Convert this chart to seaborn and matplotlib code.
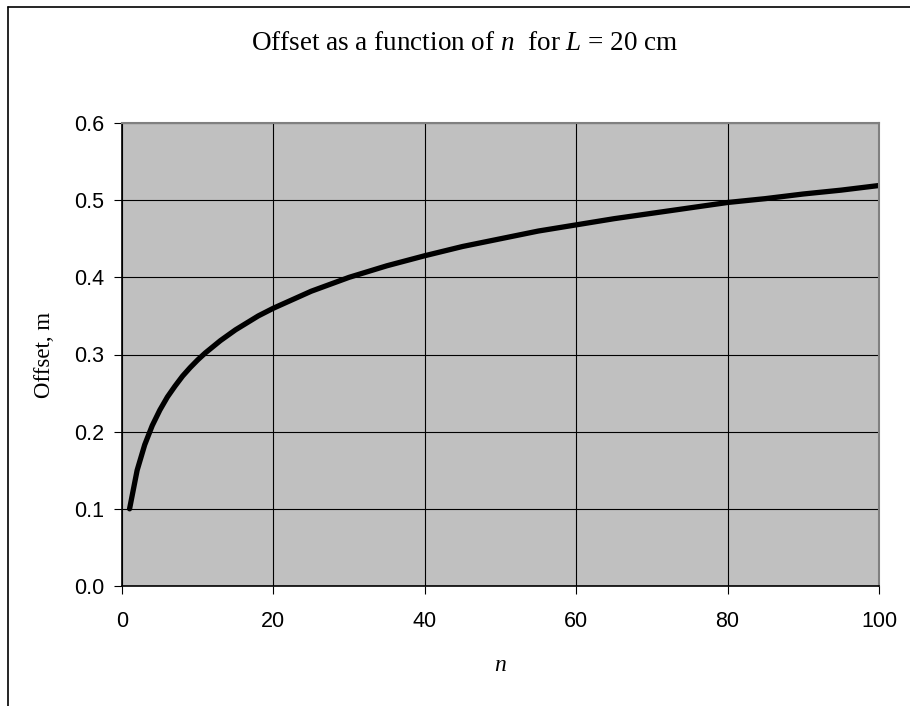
import matplotlib.pyplot as plt
import seaborn as sns
import numpy as np
from matplotlib.lines import Line2D

# Offset of a book stack (L = 20 cm)
n_books = [1, 2, 3, 4, 5, 6, 7, 8, 9, 10, 11, 12, 13, 14, 15, 16, 18, 20, 25, 30, 35,
           40, 45, 50, 55, 60, 65, 70, 75, 80, 85, 90, 95, 100]
offset_m = [0.100, 0.150, 0.183, 0.208, 0.228, 0.245, 0.259, 0.272, 0.283, 0.293, 0.302,
            0.310, 0.318, 0.325, 0.332, 0.338, 0.350, 0.360, 0.382, 0.400, 0.415,
            0.428, 0.440, 0.450, 0.460, 0.468, 0.476, 0.483, 0.490, 0.497, 0.502,
            0.508, 0.513, 0.519]
x_ticks = [0, 20, 40, 60, 80, 100]
y_ticks = [0.0, 0.1, 0.2, 0.3, 0.4, 0.5, 0.6]

sns.set_style("white")
plt.rcParams['font.family'] = ['Liberation Sans', 'DejaVu Sans']
plt.rcParams['mathtext.fontset'] = 'custom'
plt.rcParams['mathtext.rm'] = 'Liberation Serif'
plt.rcParams['mathtext.it'] = 'Liberation Serif:italic'
plt.rcParams['text.color'] = 'black'
plt.rcParams['xtick.color'] = 'black'
plt.rcParams['ytick.color'] = 'black'

fig = plt.figure(figsize=(9.10, 7.06), dpi=100)
ax = fig.add_axes([122 / 910, 1 - 586 / 706, 757 / 910, 463 / 706])
ax.set_facecolor('#c0c0c0')

sns.lineplot(x=n_books, y=offset_m, ax=ax, color='black', linewidth=3.8,
             solid_capstyle='round', solid_joinstyle='round')

ax.set_xlim(0, 100)
ax.set_ylim(0, 0.6)
ax.set_xticks(x_ticks)
ax.set_yticks(y_ticks)
ax.set_yticklabels([f'{v:.1f}' for v in y_ticks])
ax.grid(True, color='black', linewidth=0.8)
ax.set_axisbelow(True)
for s in ax.spines.values():
    s.set_color('#808080')
    s.set_linewidth(1.5)
ax.spines['left'].set_color('#000000')
ax.spines['bottom'].set_color('#000000')
ax.spines['left'].set_linewidth(1.2)
ax.spines['bottom'].set_linewidth(1.2)
ax.tick_params(axis='both', direction='out', length=6, width=0.8, color='black',
               labelcolor='black', labelsize=15.5, left=True, bottom=True)
ax.tick_params(axis='y', pad=7)
ax.tick_params(axis='x', pad=12)

fig.text(0.511, 1 - 44 / 706, 'Offset as a function of $n$  for $L$ = 20 cm',
         ha='center', va='center', fontsize=19.5, family='Liberation Serif')
fig.text(500 / 910, 1 - 665 / 706, '$n$', ha='center', va='center', fontsize=17)
fig.text(45 / 910, 1 - 355 / 706, 'Offset, m', ha='center', va='center',
         rotation=90, fontsize=16.5, family='Liberation Serif')

# outer chart frame (only top and left edges visible)
fx, fy = 8 / 910, 1 - 7 / 706
fig.add_artist(Line2D([fx, fx], [0, fy], color='black', linewidth=1.2))
fig.add_artist(Line2D([fx, 1], [fy, fy], color='black', linewidth=1.2))

fig.savefig('out.png', dpi=100)
